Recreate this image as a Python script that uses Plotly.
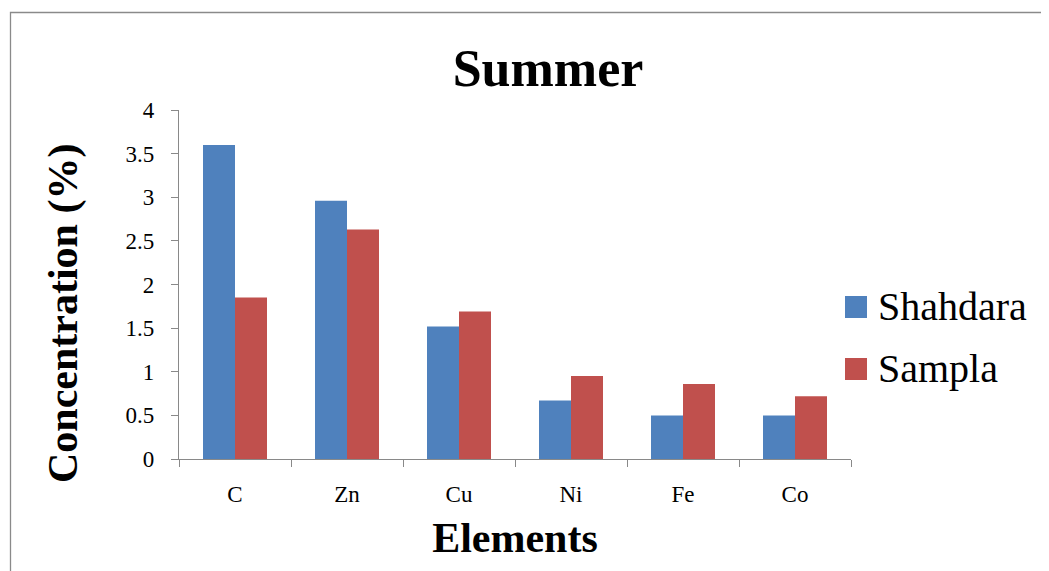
import plotly.graph_objects as go

categories = ["C", "Zn", "Cu", "Ni", "Fe", "Co"]
shahdara = [3.60, 2.96, 1.52, 0.67, 0.50, 0.50]
sampla = [1.85, 2.63, 1.69, 0.95, 0.86, 0.72]
series_names = ["Shahdara", "Sampla"]
series_colors = ["#4F81BD", "#C0504D"]
y_ticks = [0, 0.5, 1, 1.5, 2, 2.5, 3, 3.5, 4]
y_tick_labels = ["0", "0.5", "1", "1.5", "2", "2.5", "3", "3.5", "4"]

FONT = "Liberation Serif, Times New Roman, serif"
AXIS_COLOR = "#898989"

fig = go.Figure()
for name, vals, col in zip(series_names, [shahdara, sampla], series_colors):
    fig.add_trace(go.Bar(x=categories, y=vals, name=name, showlegend=False,
                         marker=dict(color=col, line=dict(width=0))))

# page body has an 8px margin: work in figure coordinates = screen - 8
OFF = 8
W, H = 1049 - OFF, 571 - OFF
L, T = 179 - OFF, 110 - OFF
R = W - (851 - OFF)
B = H - (459 - OFF)
pw, ph = W - L - R, H - T - B

def px_x(sx):
    return (sx - OFF - L) / pw

def px_y(sy):
    return (H - B - (sy - OFF)) / ph

# legend drawn as swatches + labels (large square swatches as in the reference)
shapes = [dict(type="rect", xref="paper", yref="paper",
               x0=px_x(10.5), x1=2.0, y0=-2.0, y1=px_y(12.5),
               line=dict(color="#8a8a8a", width=1.3), fillcolor="rgba(0,0,0,0)",
               layer="below")]
annotations = []
legend_centers = [307, 369]
for name, col, cy in zip(series_names, series_colors, legend_centers):
    shapes.append(dict(type="rect", xref="paper", yref="paper",
                       x0=px_x(845), x1=px_x(867), y0=px_y(cy + 11), y1=px_y(cy - 11),
                       line=dict(width=0), fillcolor=col))
    annotations.append(dict(text=name, xref="paper", yref="paper",
                            x=px_x(876), y=px_y(cy - 1), xanchor="left", yanchor="middle",
                            showarrow=False, font=dict(family=FONT, size=40, color="black")))

annotations.append(dict(text="<b>Concentration (%)</b>", xref="paper", yref="paper",
                        x=px_x(63), y=px_y(314), xanchor="center", yanchor="middle",
                        textangle=-90, showarrow=False,
                        font=dict(family=FONT, size=42, color="black")))

fig.update_layout(
    width=W, height=H,
    margin=dict(l=L, r=R, t=T, b=B, autoexpand=False),
    paper_bgcolor="white", plot_bgcolor="white",
    font=dict(family=FONT, color="black"),
    barmode="group", bargap=0.4286, bargroupgap=0,
    title=dict(text="<b>Summer</b>", font=dict(family=FONT, size=52, color="black"),
               x=(548 - OFF) / W, xref="container", xanchor="center",
               y=1 - (68 - OFF) / H, yref="container", yanchor="middle"),
    showlegend=False,
    xaxis=dict(
        type="category",
        showline=True, linecolor=AXIS_COLOR, linewidth=1.3,
        ticks="outside", ticklen=7, tickcolor=AXIS_COLOR, tickwidth=1.3,
        tickson="boundaries",
        showgrid=False, zeroline=False,
        tickfont=dict(family=FONT, size=23, color="black"),
        ticklabelstandoff=14,
        title=dict(text="<b>Elements</b>", font=dict(family=FONT, size=42, color="black"),
                   standoff=16),
    ),
    yaxis=dict(
        range=[0, 4],
        tickvals=y_ticks, ticktext=y_tick_labels,
        showline=True, linecolor=AXIS_COLOR, linewidth=1.3,
        ticks="outside", ticklen=7, tickcolor=AXIS_COLOR, tickwidth=1.3,
        showgrid=False, zeroline=False,
        tickfont=dict(family=FONT, size=23, color="black"),
        ticklabelstandoff=12,
    ),
    shapes=shapes,
    annotations=annotations,
)

fig.write_html("out.html")
